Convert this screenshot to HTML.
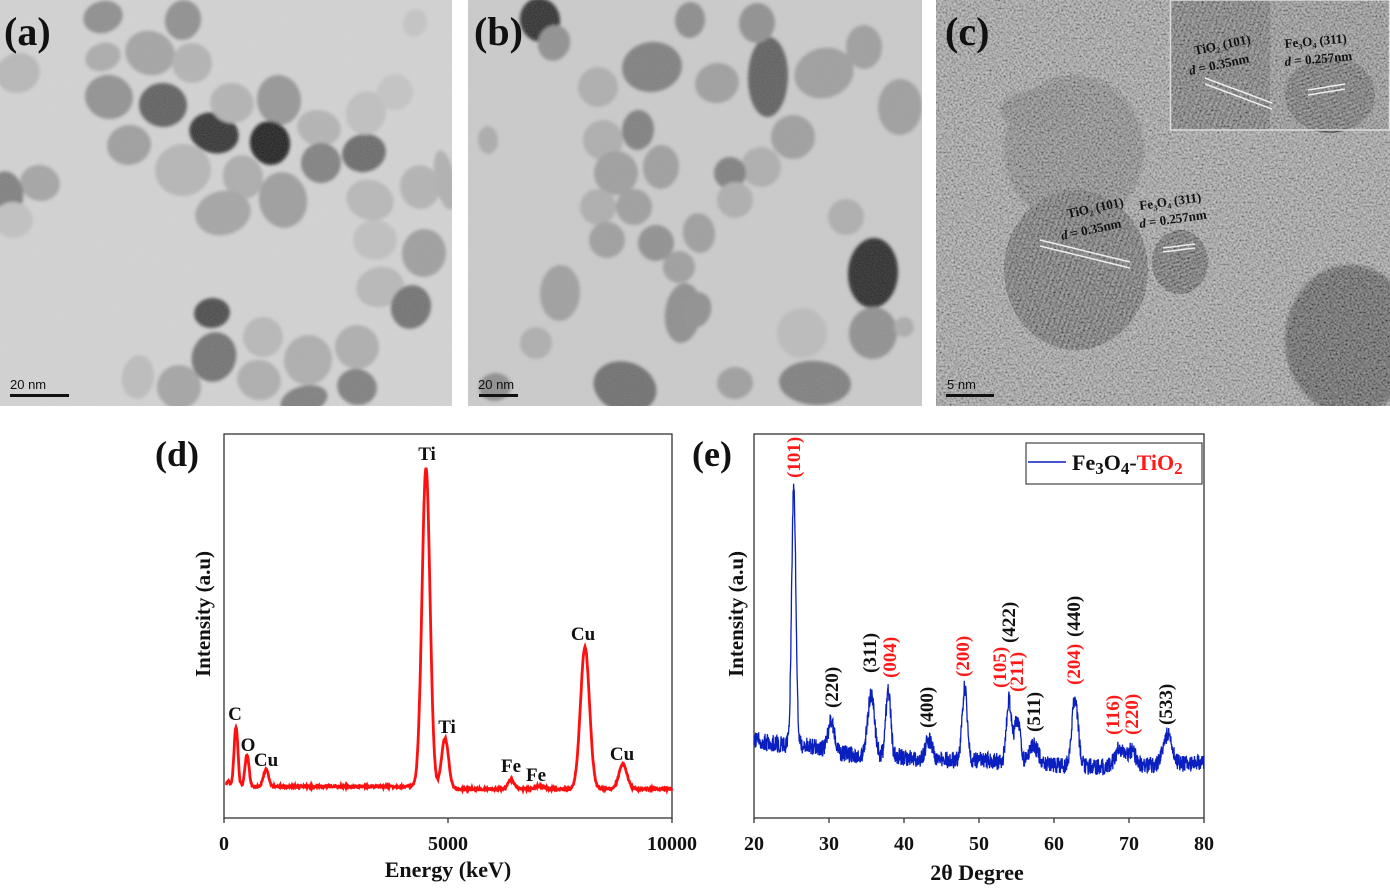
<!DOCTYPE html>
<html><head><meta charset="utf-8"><style>
html,body{margin:0;padding:0;background:#fff;}
svg{display:block;}
text{font-family:"Liberation Serif",serif;font-weight:bold;}
</style></head><body>
<svg id="s" width="1390" height="896" viewBox="0 0 1390 896" xmlns="http://www.w3.org/2000/svg">
<defs>
<filter id="grain" x="0" y="0" width="100%" height="100%">
<feTurbulence type="fractalNoise" baseFrequency="0.9" numOctaves="2" seed="3"/>
<feColorMatrix type="matrix" values="0 0 0 0 0.5  0 0 0 0 0.5  0 0 0 0 0.5  0 0 0 0.35 0"/>
</filter>
<filter id="grain2" x="0" y="0" width="100%" height="100%">
<feTurbulence type="fractalNoise" baseFrequency="0.5" numOctaves="3" seed="7"/>
<feColorMatrix type="matrix" values="1.6 0 0 0 -0.3  1.6 0 0 0 -0.3  1.6 0 0 0 -0.3  0 0 0 0 0.45"/>
</filter>
<filter id="blur"><feGaussianBlur stdDeviation="1.6"/></filter>
<pattern id="lat" width="5" height="5" patternUnits="userSpaceOnUse" patternTransform="rotate(20)">
<rect width="5" height="5" fill="#6e6e6e"/><rect width="2" height="5" fill="#4e4e4e"/></pattern>
<pattern id="lat2" width="4" height="4" patternUnits="userSpaceOnUse" patternTransform="rotate(70)">
<rect width="4" height="4" fill="#6a6a6a"/><rect width="1.6" height="4" fill="#444"/></pattern>
<clipPath id="ca"><rect x="0" y="0" width="452" height="406"/></clipPath>
<clipPath id="cb"><rect x="468" y="0" width="454" height="406"/></clipPath>
<clipPath id="cc"><rect x="936" y="0" width="454" height="406"/></clipPath>
</defs>

<g clip-path="url(#ca)">
<rect x="0" y="0" width="452" height="406" fill="#d6d6d6"/>
<g id="pa" filter="url(#blur)"></g>
<rect x="0" y="0" width="452" height="406" filter="url(#grain)"/>
</g>
<g clip-path="url(#cb)">
<rect x="468" y="0" width="454" height="406" fill="#cdcdcd"/>
<g id="pb" filter="url(#blur)"></g>
<rect x="468" y="0" width="454" height="406" filter="url(#grain)"/>
</g>
<g clip-path="url(#cc)">
<rect x="936" y="0" width="454" height="406" fill="#9c9c9c"/>
<ellipse cx="1074" cy="150" rx="70" ry="75" fill="#7c7c7c" filter="url(#blur)"/>
<ellipse cx="1076" cy="270" rx="72" ry="80" fill="url(#lat)"/>
<ellipse cx="1180" cy="262" rx="28" ry="32" fill="url(#lat2)"/>
<ellipse cx="1350" cy="340" rx="65" ry="75" fill="#4a4a4a" filter="url(#blur)"/>
<ellipse cx="1040" cy="110" rx="40" ry="20" fill="#777" filter="url(#blur)"/>
<rect x="936" y="0" width="454" height="406" filter="url(#grain2)"/>
<rect x="1170" y="0" width="220" height="130" fill="#8a8a8a"/>
<rect x="1170" y="0" width="100" height="130" fill="url(#lat)" opacity="0.8"/>
<ellipse cx="1330" cy="95" rx="45" ry="38" fill="url(#lat2)" opacity="0.9"/>
<rect x="1170" y="0" width="220" height="130" filter="url(#grain2)"/>
<rect x="1170.5" y="0" width="219" height="130" fill="none" stroke="#ddd" stroke-width="1.5"/>
<line x1="1205" y1="78" x2="1272" y2="103" stroke="#eee" stroke-width="1.5"/>
<line x1="1205" y1="84" x2="1272" y2="109" stroke="#eee" stroke-width="1.5"/>
<line x1="1308" y1="90" x2="1345" y2="84" stroke="#eee" stroke-width="1.5"/>
<line x1="1308" y1="95" x2="1345" y2="89" stroke="#eee" stroke-width="1.5"/>
<line x1="1040" y1="240" x2="1130" y2="262" stroke="#eee" stroke-width="1.5"/>
<line x1="1040" y1="246" x2="1130" y2="268" stroke="#eee" stroke-width="1.5"/>
<line x1="1163" y1="248" x2="1195" y2="244" stroke="#eee" stroke-width="1.5"/>
<line x1="1163" y1="252" x2="1195" y2="248" stroke="#eee" stroke-width="1.5"/>
<g fill="#111" font-size="13">
<text x="1195" y="55" transform="rotate(-12 1195 55)">TiO₂ (101)</text>
<text x="1190" y="75" transform="rotate(-12 1190 75)"><tspan font-style="italic">d</tspan> = 0.35nm</text>
<text x="1285" y="48" transform="rotate(-5 1285 48)">Fe₃O₄ (311)</text>
<text x="1285" y="66" transform="rotate(-5 1285 66)"><tspan font-style="italic">d</tspan> = 0.257nm</text>
<text x="1068" y="218" transform="rotate(-12 1068 218)">TiO₂ (101)</text>
<text x="1062" y="240" transform="rotate(-12 1062 240)"><tspan font-style="italic">d</tspan> = 0.35nm</text>
<text x="1140" y="210" transform="rotate(-8 1140 210)">Fe₃O₄ (311)</text>
<text x="1140" y="228" transform="rotate(-8 1140 228)"><tspan font-style="italic">d</tspan> = 0.257nm</text>
</g>
</g>

<g font-size="40" fill="#111">
<text x="4" y="45">(a)</text>
<text x="474" y="45">(b)</text>
<text x="945" y="45">(c)</text>
</g>
<g fill="#111" font-size="13">
<text x="10" y="389" style="font-family:'Liberation Sans';font-weight:normal">20 nm</text>
<text x="478" y="389" style="font-family:'Liberation Sans';font-weight:normal">20 nm</text>
<text x="947" y="389" style="font-family:'Liberation Sans';font-weight:normal">5 nm</text>
</g>
<rect x="10" y="394" width="59" height="3" fill="#111"/>
<rect x="479" y="394" width="39" height="3" fill="#111"/>
<rect x="946" y="394" width="48" height="3" fill="#111"/>

<text x="155" y="466" font-size="36" fill="#111">(d)</text>
<rect x="224" y="434" width="448" height="384" fill="none" stroke="#333" stroke-width="1.3"/>
<path id="eds" fill="none" stroke="#ff1010" stroke-width="2.8"/>
<g stroke="#333" stroke-width="1.3"><line x1="224" y1="818" x2="224" y2="823"/><line x1="448" y1="818" x2="448" y2="823"/><line x1="672" y1="818" x2="672" y2="823"/></g>
<g font-size="20" fill="#111" text-anchor="middle">
<text x="224" y="850">0</text><text x="448" y="850">5000</text><text x="672" y="850">10000</text>
<text x="448" y="877" font-size="22">Energy (keV)</text>
<text transform="translate(210,614) rotate(-90)" font-size="21">Intensity (a.u)</text>
<g font-size="19">
<text x="427" y="460">Ti</text><text x="235" y="720">C</text><text x="248" y="751">O</text>
<text x="266" y="766">Cu</text><text x="447" y="733">Ti</text><text x="511" y="772">Fe</text>
<text x="536" y="781">Fe</text><text x="583" y="640">Cu</text><text x="622" y="760">Cu</text>
</g>
</g>

<text x="692" y="466" font-size="36" fill="#111">(e)</text>
<rect x="754" y="434" width="450" height="384" fill="none" stroke="#333" stroke-width="1.3"/>
<path id="xrd" fill="none" stroke="#0a1fbf" stroke-width="1.3"/>
<g id="xt" stroke="#333" stroke-width="1.3"></g>
<g font-size="20" fill="#111" text-anchor="middle" id="xl"></g>
<text x="977" y="880" font-size="22" fill="#111" text-anchor="middle">2θ Degree</text>
<text transform="translate(743,614) rotate(-90)" font-size="21" fill="#111" text-anchor="middle">Intensity (a.u)</text>
<g id="hk" font-size="19"></g>
<rect x="1026" y="443" width="176" height="41" fill="#fff" stroke="#444" stroke-width="1.2"/>
<line x1="1028" y1="462" x2="1066" y2="462" stroke="#0a1fbf" stroke-width="1.5"/>
<text x="1072" y="470" font-size="22" fill="#111">Fe<tspan dy="4" font-size="17">3</tspan><tspan dy="-4">O</tspan><tspan dy="4" font-size="17">4</tspan><tspan dy="-4">-</tspan><tspan fill="#ff1a1a">TiO</tspan><tspan dy="4" font-size="17" fill="#ff1a1a">2</tspan></text>
</svg>
<script>
var NS="http://www.w3.org/2000/svg";
var seed=12345;function rnd(){seed=(seed*16807)%2147483647;return seed/2147483647;}
function E(g,cx,cy,rx,ry,f,rot){var e=document.createElementNS(NS,"ellipse");e.setAttribute("cx",cx);e.setAttribute("cy",cy);e.setAttribute("rx",rx);e.setAttribute("ry",ry);e.setAttribute("fill",f);if(rot)e.setAttribute("transform","rotate("+rot+" "+cx+" "+cy+")");g.appendChild(e);}
var pa=document.getElementById("pa");
[[103,17,20,16,"#8a8a8a"],[183,20,18,20,"#8c8c8c"],[150,53,25,22,"#a2a2a2"],[103,57,18,14,"#ababab"],[192,63,20,20,"#b3b3b3"],[18,73,22,20,"#b8b8b8"],[109,97,24,22,"#8e8e8e"],[163,105,24,22,"#585858"],[214,133,25,20,"#2c2c2c"],[232,103,22,20,"#b3b3b3"],[279,100,22,25,"#939393"],[270,143,20,22,"#161616"],[129,145,22,20,"#9c9c9c"],[319,128,22,18,"#b3b3b3"],[321,163,20,20,"#7c7c7c"],[364,153,22,19,"#646464"],[183,170,28,26,"#b6b6b6"],[243,177,20,22,"#acacac"],[283,200,24,28,"#9b9b9b"],[223,213,28,22,"#a3a3a3"],[40,183,20,18,"#a3a3a3"],[7,193,16,22,"#7a7a7a"],[366,113,20,22,"#c1c1c1"],[395,92,18,18,"#c6c6c6"],[415,23,12,14,"#c6c6c6"],[370,200,24,20,"#b8b8b8"],[420,187,20,22,"#b3b3b3"],[424,253,22,24,"#9c9c9c"],[375,240,22,20,"#c1c1c1"],[380,287,24,20,"#b8b8b8"],[411,307,20,22,"#6c6c6c"],[212,313,18,15,"#434343"],[214,357,22,25,"#6c6c6c"],[263,337,20,20,"#b8b8b8"],[308,360,24,25,"#adadad"],[357,347,22,22,"#adadad"],[357,387,20,18,"#7a7a7a"],[259,380,22,20,"#adadad"],[179,387,22,22,"#a3a3a3"],[304,400,24,14,"#7a7a7a"],[138,377,16,22,"#bdbdbd"],[13,220,20,18,"#c2c2c2"],[445,180,10,30,"#b0b0b0"]].forEach(function(p){E(pa,p[0],p[1],p[2],p[3],p[4],(rnd()-0.5)*40);});
var pb=document.getElementById("pb");
[[540,20,20,22,"#252525"],[554,43,16,18,"#8c8c8c"],[652,67,30,25,"#7a7a7a"],[768,77,20,40,"#585858"],[598,87,20,20,"#adadad"],[638,130,16,20,"#7a7a7a"],[603,140,20,20,"#adadad"],[616,173,22,22,"#9c9c9c"],[661,167,18,22,"#9c9c9c"],[598,207,18,18,"#adadad"],[634,207,18,18,"#9c9c9c"],[607,240,18,18,"#9c9c9c"],[656,243,18,18,"#8c8c8c"],[679,267,16,16,"#9c9c9c"],[560,293,20,28,"#9d9d9d"],[536,343,16,16,"#adadad"],[683,313,18,30,"#8a8a8a"],[625,387,32,25,"#696969"],[495,387,16,14,"#8a8a8a"],[757,23,18,20,"#8c8c8c"],[864,47,18,22,"#9c9c9c"],[824,73,30,25,"#9c9c9c"],[717,83,22,20,"#9c9c9c"],[900,107,22,28,"#9c9c9c"],[793,137,22,22,"#9c9c9c"],[761,167,20,20,"#adadad"],[730,173,16,16,"#7a7a7a"],[735,200,18,18,"#adadad"],[846,217,18,18,"#adadad"],[873,273,25,35,"#222"],[802,333,25,25,"#bcbcbc"],[873,333,24,26,"#8c8c8c"],[815,383,36,22,"#7a7a7a"],[735,383,18,16,"#9c9c9c"],[699,233,16,20,"#9c9c9c"],[697,310,14,18,"#8c8c8c"],[904,327,10,10,"#aaa"],[488,140,10,14,"#aaa"],[690,20,15,18,"#888"]].forEach(function(p){E(pb,p[0],p[1],p[2],p[3],p[4],(rnd()-0.5)*40);});
var pk=[[228,8,2],[236,62,2],[247,32,2],[266,17,2.5],[426,322,4],[445,51,3.5],[511,9,3],[540,3,4],[585,142,4.5],[623,25,4]];
var d="";for(var x=226;x<=672;x+=0.5){var y=(x>240&&x<420)?786.5:789;for(var i=0;i<pk.length;i++){var q=pk[i];y-=q[1]*Math.exp(-Math.pow((x-q[0])/q[2],2)/2);}y+=(rnd()-0.5)*2.2;d+=(d?"L":"M")+x.toFixed(1)+" "+y.toFixed(1);}
document.getElementById("eds").setAttribute("d",d);
var bp=[[20,740],[24,745],[27,745],[30,750],[34,757],[38,755],[42,760],[50,760],[60,765],[66,767],[80,763]];
function base(t){for(var i=0;i<bp.length-1;i++){if(t<=bp[i+1][0]){var f=(t-bp[i][0])/(bp[i+1][0]-bp[i][0]);return bp[i][1]+f*(bp[i+1][1]-bp[i][1]);}}return 763;}
var xp=[[25.3,258,0.28],[30.3,30,0.4],[35.6,62,0.45],[37.9,66,0.32],[43.3,20,0.45],[48.1,72,0.35],[54.0,62,0.33],[55.1,44,0.38],[57.3,18,0.6],[62.8,68,0.42],[68.8,18,0.6],[70.4,15,0.5],[75.2,30,0.6]];
d="";for(var t=20;t<=80;t+=0.035){var y=base(t);for(var i=0;i<xp.length;i++){var q=xp[i];y-=q[1]*Math.exp(-Math.pow((t-q[0])/q[2],2)/2);}y+=(rnd()-0.5)*17;var px=754+(t-20)/60*450;d+=(d?"L":"M")+px.toFixed(1)+" "+y.toFixed(1);}
document.getElementById("xrd").setAttribute("d",d);
var xt=document.getElementById("xt"),xl=document.getElementById("xl");
for(var v=20;v<=80;v+=10){var px=754+(v-20)/60*450;var l=document.createElementNS(NS,"line");l.setAttribute("x1",px);l.setAttribute("x2",px);l.setAttribute("y1",818);l.setAttribute("y2",823);xt.appendChild(l);var tx=document.createElementNS(NS,"text");tx.setAttribute("x",px);tx.setAttribute("y",850);tx.textContent=v;xl.appendChild(tx);}
var hk=document.getElementById("hk");
[["(101)",793,478,1],["(220)",831,708,0],["(311)",869,673,0],["(004)",889,678,1],["(400)",926,728,0],["(200)",962,677,1],["(105)",999,688,1],["(422)",1008,643,0],["(211)",1016,692,1],["(511)",1033,732,0],["(204)",1073,685,1],["(440)",1073,637,0],["(116)",1112,735,1],["(220)",1131,735,1],["(533)",1165,725,0]].forEach(function(a){var tx=document.createElementNS(NS,"text");tx.setAttribute("transform","translate("+(a[1]+7)+","+a[2]+") rotate(-90)");tx.setAttribute("fill",a[3]?"#ff1a1a":"#111");tx.textContent=a[0];hk.appendChild(tx);});
</script>
</body></html>
